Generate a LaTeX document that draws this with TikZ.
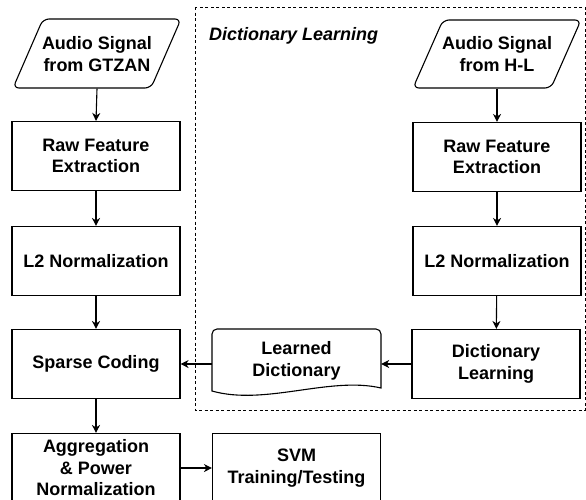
\documentclass[tikz,border=0pt]{standalone}
\usepackage{fontspec}
\setmainfont{Liberation Sans}
\usetikzlibrary{arrows.meta}
\begin{document}
\begin{tikzpicture}[x=1pt,y=-1pt,
  txt/.style={font=\bfseries\fontsize{18}{21.5}\selectfont, align=center, inner sep=0pt},
  blk/.style={txt, draw, line width=1.1pt, minimum width=168pt, minimum height=69pt},
  ghost/.style={txt, minimum width=130pt, minimum height=69pt},
  shp/.style={draw, line width=1.1pt},
  arr/.style={line width=1.1pt, -{Stealth[length=8pt,width=8pt,inset=2.5pt]}},
  grp/.style={draw, line width=0.9pt, dash pattern=on 3pt off 2.5pt}
]
\useasboundingbox (0,0) rectangle (586,499);
\clip (0,0) rectangle (586,499);

% group frame
\draw[grp] (195,7) rectangle (585,410);
\node[txt, font=\bfseries\itshape\fontsize{18}{21.5}\selectfont, anchor=base west] (grplabel) at (209,40) {Dictionary Learning};

% left column
\draw[shp, rounded corners=6pt] (43,19) -- (181,19) -- (151,88) -- (13,88) -- cycle;
\node[ghost] (gtzan) at (97,54) {Audio Signal\\from GTZAN};
\node[blk] (raw1) at (96,156) {Raw Feature\\Extraction};
\node[blk] (l2a) at (96,261) {L2 Normalization};
\node[blk] (sc) at (96,364) {Sparse Coding};
\node[blk] (agg) at (96,468) {Aggregation\\\& Power\\Normalization};
\node[blk] (svm) at (296.5,468) {SVM\\Training/Testing};

% right column
\draw[shp, rounded corners=6pt] (443,20) -- (581,20) -- (551,88) -- (413,88) -- cycle;
\node[ghost] (hl) at (497,54) {Audio Signal\\from H-L};
\node[blk] (raw2) at (497,157) {Raw Feature\\Extraction};
\node[blk] (l2b) at (497,261) {L2 Normalization};
\node[blk] (dl) at (496,364) {Dictionary\\Learning};

% learned dictionary (document shape)
\draw[shp] (212,391) [rounded corners=5pt]-- (212,329) -- (381,329) [sharp corners]-- (381,388)
  .. controls (330,376) and (265,406) .. (212,391) -- cycle;
\node[txt, minimum width=169pt, minimum height=62pt] (ld) at (296.5,361) {Learned\\Dictionary};

% connectors
\draw[arr] (gtzan.south) -- (raw1.north);
\draw[arr] (raw1) -- (l2a);
\draw[arr] (l2a) -- (sc);
\draw[arr] (sc) -- (agg);
\draw[arr] (agg.east |- svm.west) -- (svm.west);
\draw[arr] (hl.south) -- (raw2.north);
\draw[arr] (raw2) -- (l2b);
\draw[arr] (l2b) -- (dl);
\draw[arr] (dl.west) -- (dl.west -| ld.east);
\draw[arr] (sc.east -| ld.west) -- (sc.east);
\end{tikzpicture}
\end{document}
